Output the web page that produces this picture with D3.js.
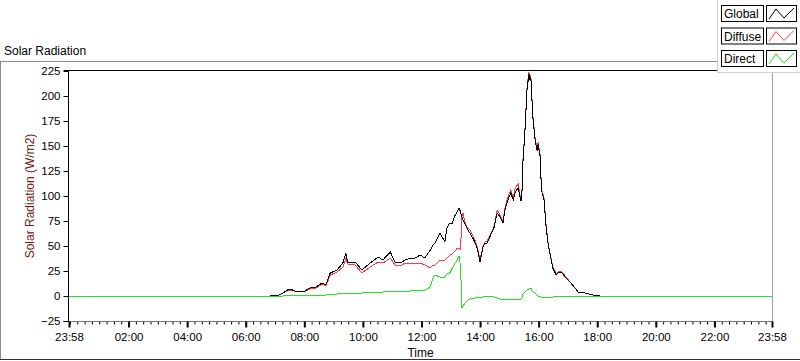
<!DOCTYPE html>
<html>
<head>
<meta charset="utf-8">
<script src="https://cdn.jsdelivr.net/npm/d3@7/dist/d3.min.js"></script>
<style>
  body { margin: 0; background: #fff; }
  svg { display: block; font-family: "Liberation Sans", Arial, sans-serif; }
</style>
</head>
<body>
<script>
// readings, one row per sample (first and last are the 23:58 ends of the window)
var times = [
  "23:58","06:50","07:08","07:16","07:29","07:36","07:43","08:01","08:12","08:24",
  "08:36","08:44","08:53","09:07","09:19","09:25","09:29","09:44","09:58","10:15",
  "10:31","10:41","10:56","11:06","11:16","11:27","11:37","11:47","11:57","12:07",
  "12:18","12:24","12:28","12:38","12:48","12:52","12:58","13:03","13:09","13:13",
  "13:17","13:20","13:23","13:25","13:29","13:33","13:39","13:45","13:50","13:54",
  "14:00","14:06","14:10","14:14","14:20","14:29","14:35","14:41","14:47","14:51",
  "14:57","15:03","15:08","15:12","15:18","15:22","15:24","15:26","15:28","15:32",
  "15:36","15:40","15:42","15:44","15:46","15:48","15:53","15:57","15:59","16:03",
  "16:05","16:07","16:11","16:15","16:20","16:23","16:29","16:36","16:42","16:48",
  "16:56","17:04","17:13","17:21","17:35","17:56","18:06","23:58"
];

var globalRad = [
  0,0,1,3,7,6,4.5,5,8,9,
  13,11,23,26,33,43,34,34,26,33,
  39,36,44,34,33,36,38,38,41,38,
  46,51,53,63,54,68,73,73,81,84,
  88,84,79,76,72,68,63,58,53,48,
  34,49,53,53,59,69,83,79,73,86,
  96,103,96,104,108,99,95,105,135,165,
  205,222,216,219,199,179,155,145,152,139,
  115,103,96,70,50,43,28,21,24,23,
  18,14,9,4,3,0.5,0,0
];

var diffuseRad = [
  0,0,1,3,6,5.5,4,4.5,7,8,
  12,10,21,24,29,37,32,31,23,29,
  34,33,38,31,30,33,33,33,33,31,
  28,31,31,36,36,38,41,42,45,48,
  48,47,80,83,74,69,66,61,55,50,
  36,50,54,55,60,70,86,81,75,88,
  99,106,98,108,112,101,97,107,137,167,
  207,224,218,221,201,181,157,147,154,141,
  117,105,98,72,51,44,29,22,25,24,
  19,14,9,4,3,0.5,0,0
];

var directRad = [
  0,0,0,0,0.5,0.5,0.5,1,1,1,
  1,1,1.5,2,2.5,3,3,3,3,3.5,
  4,4,4.5,4.5,5,5,5,5.5,6,6,
  9,19,21,19,19,22,23,28,33,36,
  40,30,-12,-10,-7,-5,-3,-2,-2,-1,
  -1,-1,0,0,0,-1,-2,-3,-3,-3,
  -3,-3,-3,-3,-3,-3,-3,-2,2,4,
  6,7,8,8,5,4,3,1,0,0,
  -1,-1,-1,-1,-1,-1,-1,0,0,0,
  0,0,0,0,0,0,0,0
];

var yTicks = [-25, 0, 25, 50, 75, 100, 125, 150, 175, 200, 225];
var xTickLabels = ["23:58","02:00","04:00","06:00","08:00","10:00","12:00","14:00","16:00","18:00","20:00","22:00","23:58"];

var series = [
  {name: "Global", values: globalRad, color: "#000000"},
  {name: "Diffuse", values: diffuseRad, color: "#ff3c3c"},
  {name: "Direct", values: directRad, color: "#1ee61e"}
];
// drawing order of the traces: red under black, green on top
var drawOrder = [series[1], series[0], series[2]];

var width = 800;
var height = 361;
var plot = {left: 69, right: 772, top: 71, bottom: 321};

var parseTime = d3.timeParse("%Y-%m-%d %H:%M");
// the window runs from 23:58 of the day before to 23:58
function toDate(t, i) {
  return parseTime((i === 0 ? "2000-01-01 " : "2000-01-02 ") + t);
}
var dates = times.map(toDate);
var tickDates = xTickLabels.map(toDate);

var svg = d3.select("body").append("svg")
  .attr("width", width)
  .attr("height", height);

var x = d3.scaleTime()
  .domain([dates[0], dates[dates.length - 1]])
  .range([plot.left, plot.right]);

var y = d3.scaleLinear()
  .domain([-25, 225])
  .range([plot.bottom, plot.top]);

// outer frame
svg.append("line").attr("x1", 0).attr("x2", 717).attr("y1", 61.5).attr("y2", 61.5).attr("stroke", "#8c8c8c");
svg.append("line").attr("x1", 0.5).attr("x2", 0.5).attr("y1", 61.5).attr("y2", 360).attr("stroke", "#8c8c8c");
svg.append("line").attr("x1", 0).attr("x2", width).attr("y1", 359.5).attr("y2", 359.5).attr("stroke", "#333");

svg.append("text")
  .attr("x", 4)
  .attr("y", 55)
  .style("font-size", "12px")
  .style("fill", "#000")
  .text("Solar Radiation");

// plot area
svg.append("line").attr("x1", plot.left - 1).attr("x2", plot.right).attr("y1", plot.top - 0.5).attr("y2", plot.top - 0.5).attr("stroke", "#000");
svg.append("line").attr("x1", plot.right + 0.5).attr("x2", plot.right + 0.5).attr("y1", plot.top).attr("y2", plot.bottom).attr("stroke", "#a0a0a0");

// y axis
var yAxis = d3.axisLeft(y)
  .tickValues(yTicks)
  .tickSize(5)
  .tickPadding(3)
  .tickFormat(d3.format("d"));

var gy = svg.append("g")
  .attr("transform", "translate(" + (plot.left - 0.5) + ",0)")
  .call(yAxis);
gy.select(".domain").attr("stroke", "#000").attr("d", "M-5," + (plot.top - 0.5) + "H0V" + (plot.bottom + 0.5) + "H-5");
gy.selectAll("text").style("font-size", "11.5px").style("fill", "#000").style("font-family", "Liberation Sans, Arial, sans-serif");
gy.selectAll("line").attr("stroke", "#000");

svg.append("text")
  .attr("transform", "translate(34," + ((plot.top + plot.bottom) / 2) + ") rotate(-90)")
  .attr("text-anchor", "middle")
  .style("font-size", "12px")
  .style("fill", "#6b1a1a")
  .text("Solar Radiation (W/m2)");

// x axis: minor ticks every 15 min, labelled majors
var minorTicks = d3.timeMinute.every(15).range(tickDates[0], tickDates[tickDates.length - 1]);
svg.append("g")
  .attr("transform", "translate(0," + (plot.bottom + 0.5) + ")")
  .call(d3.axisBottom(x).tickValues(minorTicks).tickSize(3).tickFormat(""))
  .call(function (g) { g.select(".domain").remove(); })
  .selectAll("line").attr("stroke", "#000");

var gx = svg.append("g")
  .attr("transform", "translate(0," + (plot.bottom + 0.5) + ")")
  .call(d3.axisBottom(x)
    .tickValues(tickDates)
    .tickSize(6)
    .tickPadding(5)
    .tickFormat(function (d, i) { return xTickLabels[i]; }));
gx.select(".domain").attr("stroke", "#777").attr("d", "M" + plot.left + ",0H" + (plot.right + 1));
gx.selectAll("line").attr("stroke", "#000").attr("stroke-width", 2);
gx.selectAll("text").style("font-size", "11.5px").style("fill", "#000").style("font-family", "Liberation Sans, Arial, sans-serif");

svg.append("text")
  .attr("x", (plot.left + plot.right) / 2)
  .attr("y", 357)
  .attr("text-anchor", "middle")
  .style("font-size", "12px")
  .style("fill", "#000")
  .text("Time");

// traces
var line = d3.line()
  .x(function (d, i) { return x(dates[i]); })
  .y(function (d) { return y(d); });

svg.append("g")
  .selectAll("path")
  .data(drawOrder)
  .enter().append("path")
  .attr("d", function (d) { return line(d.values); })
  .attr("fill", "none")
  .attr("stroke", function (d) { return d.color; })
  .attr("stroke-width", 1)
  .style("shape-rendering", "crispEdges");

// legend panel in the top right corner
var legend = svg.append("g");
legend.append("rect")
  .attr("x", 717.5).attr("y", -1)
  .attr("width", 90).attr("height", 73.5)
  .attr("fill", "#fff")
  .attr("stroke", "#d0d0d0");

var sample = d3.line();
var item = legend.selectAll(".item")
  .data(series)
  .enter().append("g")
  .attr("class", "item")
  .attr("transform", function (d, i) { return "translate(0," + (i * 22.5) + ")"; });

item.append("rect")
  .attr("x", 721.5).attr("y", 5.5)
  .attr("width", 42).attr("height", 16)
  .attr("fill", "#fff")
  .attr("stroke", "#000");
item.append("text")
  .attr("x", 724)
  .attr("y", 18)
  .style("font-size", "12px")
  .style("fill", "#000")
  .text(function (d) { return d.name; });
item.append("rect")
  .attr("x", 766.5).attr("y", 5.5)
  .attr("width", 30).attr("height", 16)
  .attr("fill", "#fff")
  .attr("stroke", "#000");
item.append("path")
  .attr("d", sample([[769, 19], [776, 9], [784, 18], [794, 8]]))
  .attr("fill", "none")
  .attr("stroke", function (d) { return d.color; })
  .attr("stroke-width", 1);
</script>
</body>
</html>
